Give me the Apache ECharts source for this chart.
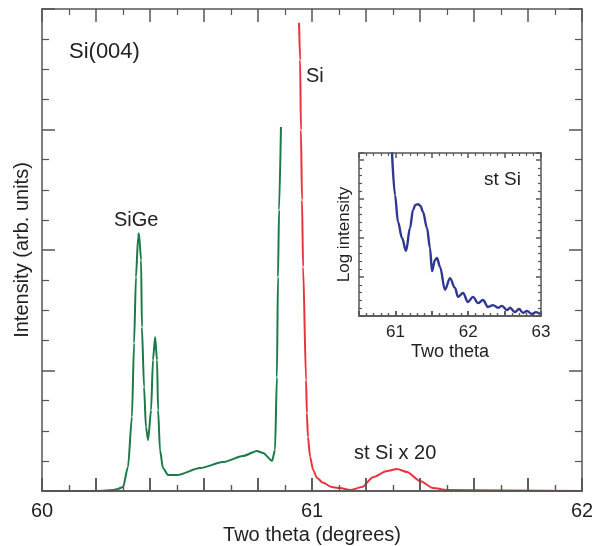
<!DOCTYPE html>
<html>
<head>
<meta charset="utf-8">
<script src="https://cdn.jsdelivr.net/npm/echarts@6/dist/echarts.min.js"></script>
<style>html,body{margin:0;padding:0;background:#fff}#c{width:592px;height:546px}</style>
</head>
<body>
<div id="c"></div>
<script>
// Main scan: two theta (degrees) vs intensity (arb. units, 0..16 frame)
var sigeTheta = [60.0, 60.215, 60.263, 60.281, 60.300, 60.3185, 60.333, 60.341, 60.348, 60.356, 60.359, 60.367, 60.370, 60.378, 60.385, 60.393, 60.404, 60.411, 60.419, 60.426, 60.430, 60.437, 60.448, 60.467, 60.500, 60.585, 60.670, 60.744, 60.796, 60.819, 60.852, 60.863, 60.870, 60.874, 60.878, 60.885];
var sigeIntensity = [0, 0, 0.03, 0.07, 0.13, 0.80, 2.46, 4.91, 7.10, 8.43, 8.56, 7.67, 5.44, 3.45, 2.12, 1.69, 2.69, 4.35, 5.11, 4.35, 2.69, 1.36, 0.76, 0.53, 0.53, 0.76, 0.96, 1.16, 1.33, 1.26, 1.00, 1.36, 3.78, 7.10, 9.33, 12.08];
var siTheta = [60.952, 60.956, 60.959, 60.963, 60.967, 60.978, 60.981, 60.985, 60.993, 61.004, 61.019, 61.041, 61.074, 61.096, 61.104, 61.141, 61.185, 61.226, 61.278, 61.315, 61.352, 61.400, 61.448, 61.500, 62.0];
var siIntensity = [15.54, 14.31, 11.98, 9.66, 7.44, 3.68, 2.59, 1.79, 1.13, 0.70, 0.43, 0.27, 0.13, 0.10, 0.10, 0.03, 0.13, 0.46, 0.66, 0.73, 0.63, 0.33, 0.10, 0.03, 0.0];
// Inset: log intensity of strained Si
var insetTheta = [60.953, 60.995, 61.036, 61.091, 61.146, 61.201, 61.242, 61.275, 61.310, 61.345, 61.379, 61.434, 61.475, 61.503, 61.544, 61.571, 61.613, 61.681, 61.750, 61.819, 61.860, 61.929, 61.997, 62.066, 62.135, 62.203, 62.272, 62.341, 62.409, 62.464, 62.533, 62.574, 62.643, 62.698, 62.753, 62.808, 62.876, 62.931, 62.986];
var insetLogI = [4.21, 3.10, 2.41, 2.00, 1.67, 2.26, 2.72, 2.85, 2.87, 2.82, 2.67, 2.26, 1.74, 1.15, 1.44, 1.49, 1.26, 0.67, 0.97, 0.72, 0.49, 0.59, 0.36, 0.49, 0.33, 0.41, 0.23, 0.28, 0.21, 0.26, 0.15, 0.21, 0.10, 0.18, 0.08, 0.13, 0.05, 0.10, 0.05];
var mainXLabels = [60, 61, 62];
var insetXLabels = [61, 62, 63];

function pairs(xs, ys){ return xs.map(function(x,i){ return [x, ys[i]]; }); }
function labelFmt(list){ return function(v){ for (var i=0;i<list.length;i++){ if (Math.abs(v-list[i])<1e-6) return String(list[i]); } return ''; }; }

var FONT = 'Liberation Sans, Arial, sans-serif';
var AX = '#555';

// frame axis: line + ticks. onZero=true lets a 'top' axis sit on the y=0 edge.
function tickAx(grid, pos, min, max, interval, split, tickLen, minorLen, z, onZero, inside){
  return {
    type:'value', gridIndex:grid, position:pos, min:min, max:max, interval:interval, z:z,
    axisLine:{show:true, onZero:onZero, lineStyle:{color:AX, width:1.5}},
    axisTick:{show:true, inside:inside, length:tickLen, lineStyle:{color:AX, width:1.5}},
    minorTick:{show:true, splitNumber:split, length:minorLen, lineStyle:{color:AX, width:1.2}},
    splitLine:{show:false}, minorSplitLine:{show:false},
    axisLabel:{show:false}
  };
}
function labelAx(grid, pos, min, max, interval, labels, fs, margin, name, nameGap, nfs, rotate, z){
  return {
    type:'value', gridIndex:grid, position:pos, min:min, max:max, interval:interval, z:z,
    axisLine:{show:false, onZero:false}, axisTick:{show:false}, minorTick:{show:false},
    splitLine:{show:false},
    axisLabel: labels ? {show:true, formatter:labelFmt(labels), color:'#222', fontSize:fs, fontFamily:FONT, margin:margin, showMinLabel:true, showMaxLabel:true} : {show:false},
    name:name, nameLocation:'middle', nameGap:nameGap, nameRotate: rotate ? 90 : 0,
    nameTextStyle:{color:'#222', fontSize:nfs, fontFamily:FONT}
  };
}

var chart = echarts.init(document.getElementById('c'), null, {renderer:'canvas'});
chart.setOption({
  animation:false,
  backgroundColor:'#fff',
  grid:[
    {left:42, right:10, top:9, bottom:55, show:false, containLabel:false, outerBoundsMode:'none'},
    {left:359, right:51, top:153, bottom:230, show:true, backgroundColor:'#fff', borderWidth:0, z:5, containLabel:false, outerBoundsMode:'none'}
  ],
  xAxis:[
    tickAx(0,'bottom',60,62,0.2,2,13,6,4,true,true),
    tickAx(0,'top',60,62,0.2,2,13,6,4,false,true),
    labelAx(0,'bottom',60,62,1,mainXLabels,20,10,'Two theta (degrees)',31,20,false,1),
    tickAx(0,'top',60,62,0.2,2,13,6,4,true,false),
    tickAx(1,'bottom',60.5,63,0.5,5,5,3,9,true,true),
    tickAx(1,'top',60.5,63,0.5,5,5,3,9,false,true),
    labelAx(1,'bottom',60.5,63,0.5,insetXLabels,17,8,'Two theta',27,18,false,6),
    tickAx(1,'top',60.5,63,0.5,5,5,3,9,true,false)
  ],
  yAxis:[
    tickAx(0,'left',0,16,4,4,13,7,4,false,true),
    tickAx(0,'right',0,16,4,4,13,7,4,false,true),
    labelAx(0,'left',0,16,4,null,0,0,'Intensity (arb. units)',10,20,true,1),
    tickAx(1,'left',0,4.18,1,5,5,3,9,false,true),
    tickAx(1,'right',0,4.18,1,5,5,3,9,false,true),
    labelAx(1,'left',0,4.18,1,null,0,0,'Log intensity',6,17,true,6)
  ],
  series:[
    {type:'line', xAxisIndex:0, yAxisIndex:0, data:pairs(sigeTheta,sigeIntensity), showSymbol:false, smooth:0.25, smoothMonotone:'x', lineStyle:{color:'#1c7a48', width:2}, z:3},
    {type:'line', xAxisIndex:0, yAxisIndex:0, data:pairs(siTheta,siIntensity), showSymbol:false, smooth:0.25, smoothMonotone:'x', lineStyle:{color:'#e8333c', width:2}, z:3},
    {type:'line', xAxisIndex:4, yAxisIndex:3, data:pairs(insetTheta,insetLogI), showSymbol:false, smooth:0.35, smoothMonotone:'x', lineStyle:{color:'#2f3795', width:2.4}, z:8}
  ],
  graphic:[
    {type:'text', left:69, top:41, z:10, style:{text:'Si(004)', fontSize:22, fontFamily:FONT, fill:'#222'}},
    {type:'text', left:114, top:210, z:10, style:{text:'SiGe', fontSize:20, fontFamily:FONT, fill:'#222'}},
    {type:'text', left:306, top:66, z:10, style:{text:'Si', fontSize:20, fontFamily:FONT, fill:'#222'}},
    {type:'text', left:354, top:443, z:10, style:{text:'st Si x 20', fontSize:20, fontFamily:FONT, fill:'#222'}},
    {type:'text', left:484, top:170, z:10, style:{text:'st Si', fontSize:19, fontFamily:FONT, fill:'#222'}}
  ]
});
</script>
</body>
</html>
